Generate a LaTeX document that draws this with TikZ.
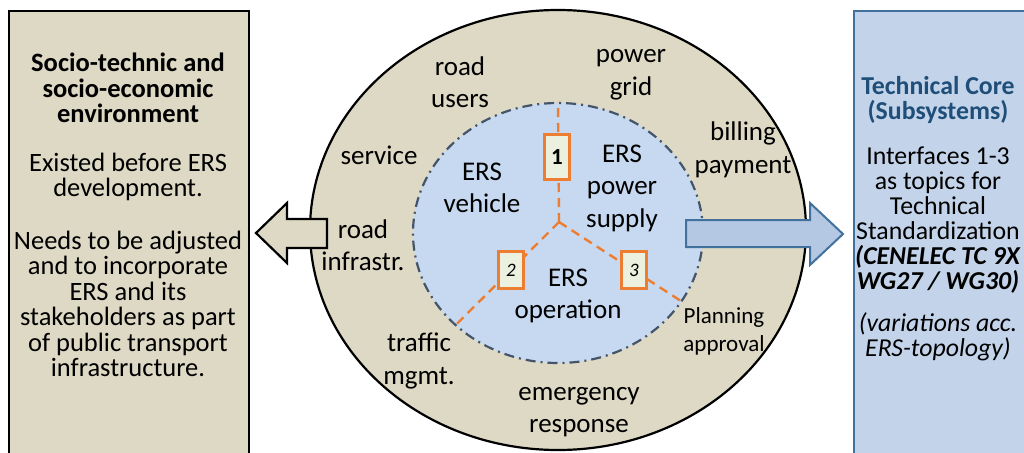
\documentclass[tikz,border=0pt]{standalone}
\usepackage{fontspec}
\setmainfont{Carlito}
\usetikzlibrary{shapes.geometric,positioning,calc}

\definecolor{envtan}{HTML}{DDD9C4}
\definecolor{ersblue}{HTML}{C6D9F1}
\definecolor{coreblue}{HTML}{C3D4EA}
\definecolor{arrowblue}{HTML}{B4C8E4}
\definecolor{coreline}{HTML}{41719C}
\definecolor{coretext}{HTML}{1F4E79}
\definecolor{ringline}{HTML}{44546A}
\definecolor{ifaceorange}{HTML}{ED7D31}
\definecolor{ifacegreen}{HTML}{EBF1DE}

\begin{document}
\begin{tikzpicture}[
    x=1pt, y=-1pt,
    envbox/.style={rectangle, draw, line width=2.2pt, fill=envtan, inner sep=0pt},
    corebox/.style={rectangle, draw=coreline, line width=2.2pt, fill=coreblue, inner sep=0pt},
    boxtext/.style={align=center, inner sep=0pt, font=\fontsize{26.5}{25.5}\selectfont},
    label/.style={align=center, inner sep=0pt, font=\fontsize{27}{32.5}\selectfont},
    iface/.style={rectangle, draw=ifaceorange, line width=2.6pt, fill=ifacegreen, minimum width=25pt, minimum height=37pt, inner sep=0pt},
    link/.style={draw=ifaceorange, line width=2.4pt, dash pattern=on 9pt off 6pt},
]
    \useasboundingbox (0,0) rectangle (1024,452);
    \clip (0,0) rectangle (1024,452);

    % Socio-technic environment
    \node[envbox, anchor=north west, minimum width=240pt, minimum height=460pt] (env_box) at (8,10) {};
    \node[boxtext, anchor=north] (env_text) at (128,53) {%
        \textbf{Socio-technic and}\\ \textbf{socio-economic}\\ \textbf{environment}\\[23pt]
        Existed before ERS\\ development.\\[27pt]
        Needs to be adjusted\\ and to incorporate\\ ERS and its\\ stakeholders as part\\ of public transport\\ infrastructure.};

    % Technical core
    \node[corebox, anchor=north west, minimum width=180pt, minimum height=460pt] (core_box) at (853,10) {};
    \node[boxtext, font=\fontsize{25.8}{25}\selectfont, anchor=north] (core_text) at (938,76) {%
        \textcolor{coretext}{\textbf{Technical Core}}\\ \textcolor{coretext}{\textbf{(Subsystems)}}\\[20pt]
        Interfaces 1-3\\ as topics for\\ Technical\\ Standardization\\
        \textbf{\textit{(CENELEC TC 9X}}\\ \textbf{\textit{WG27 / WG30)}}\\[17pt]
        \textit{(variations acc.}\\ \textit{ERS-topology)}};

    % Rings
    \node[ellipse, draw, line width=2.2pt, fill=envtan, minimum width=496pt, minimum height=440pt, inner sep=0pt] (ring) at (558,230) {};
    \node[ellipse, draw=ringline, line width=2.2pt, fill=ersblue, dash pattern=on 10pt off 5pt on 2pt off 5pt,
          minimum width=290pt, minimum height=260pt, inner sep=0pt] (ers) at (558,233) {};

    % Interfaces
    \coordinate (hub) at (559,222);
    \draw[link] (hub) -- (ers.90);
    \draw[link] (hub) -- (ers.222);
    \draw[link] (hub) -- (ers.-29);
    \node[iface, minimum height=45pt] (if1) at (557,157) {\fontsize{23}{23}\selectfont\textbf{1}};
    \node[iface] (if2) at (511,270) {\fontsize{19}{19}\selectfont\textit{2}};
    \node[iface] (if3) at (634,270) {\fontsize{19}{19}\selectfont\textit{3}};

    % Labels in the rings
    \node[label] (road_users) at (460,82) {road\\ users};
    \node[label] (power_grid) at (631,75) {power\\ grid};
    \node[label] (service) at (379,155) {service};
    \node[label] (billing) at (743,150) {billing\\ payment};
    \node[label] (ers_vehicle) at (482,188) {ERS\\ vehicle};
    \node[label] (ers_power) at (622,188) {ERS\\ power\\ supply};
    \node[label] (road_infra) at (363,245) {road\\ infrastr.};
    \node[label] (ers_operation) at (568,296) {ERS\\ operation};
    \node[label, font=\fontsize{23}{28}\selectfont] (planning) at (724,331) {Planning\\ approval};
    \node[label] (traffic) at (419,361) {traffic\\ mgmt.};
    \node[label] (emergency) at (579,412) {emergency\\ response};

    % Block arrows
    \draw[line width=2.2pt, fill=envtan] (327,219) -- (287,219) -- (287,203) -- (256,233)
        -- (287,263) -- (287,248) -- (327,248) -- cycle;
    \draw[line width=2pt, draw=coreline, fill=arrowblue] (686,220) -- (810,220) -- (810,203) -- (843,234)
        -- (810,265) -- (810,247) -- (686,247) -- cycle;

\end{tikzpicture}
\end{document}
